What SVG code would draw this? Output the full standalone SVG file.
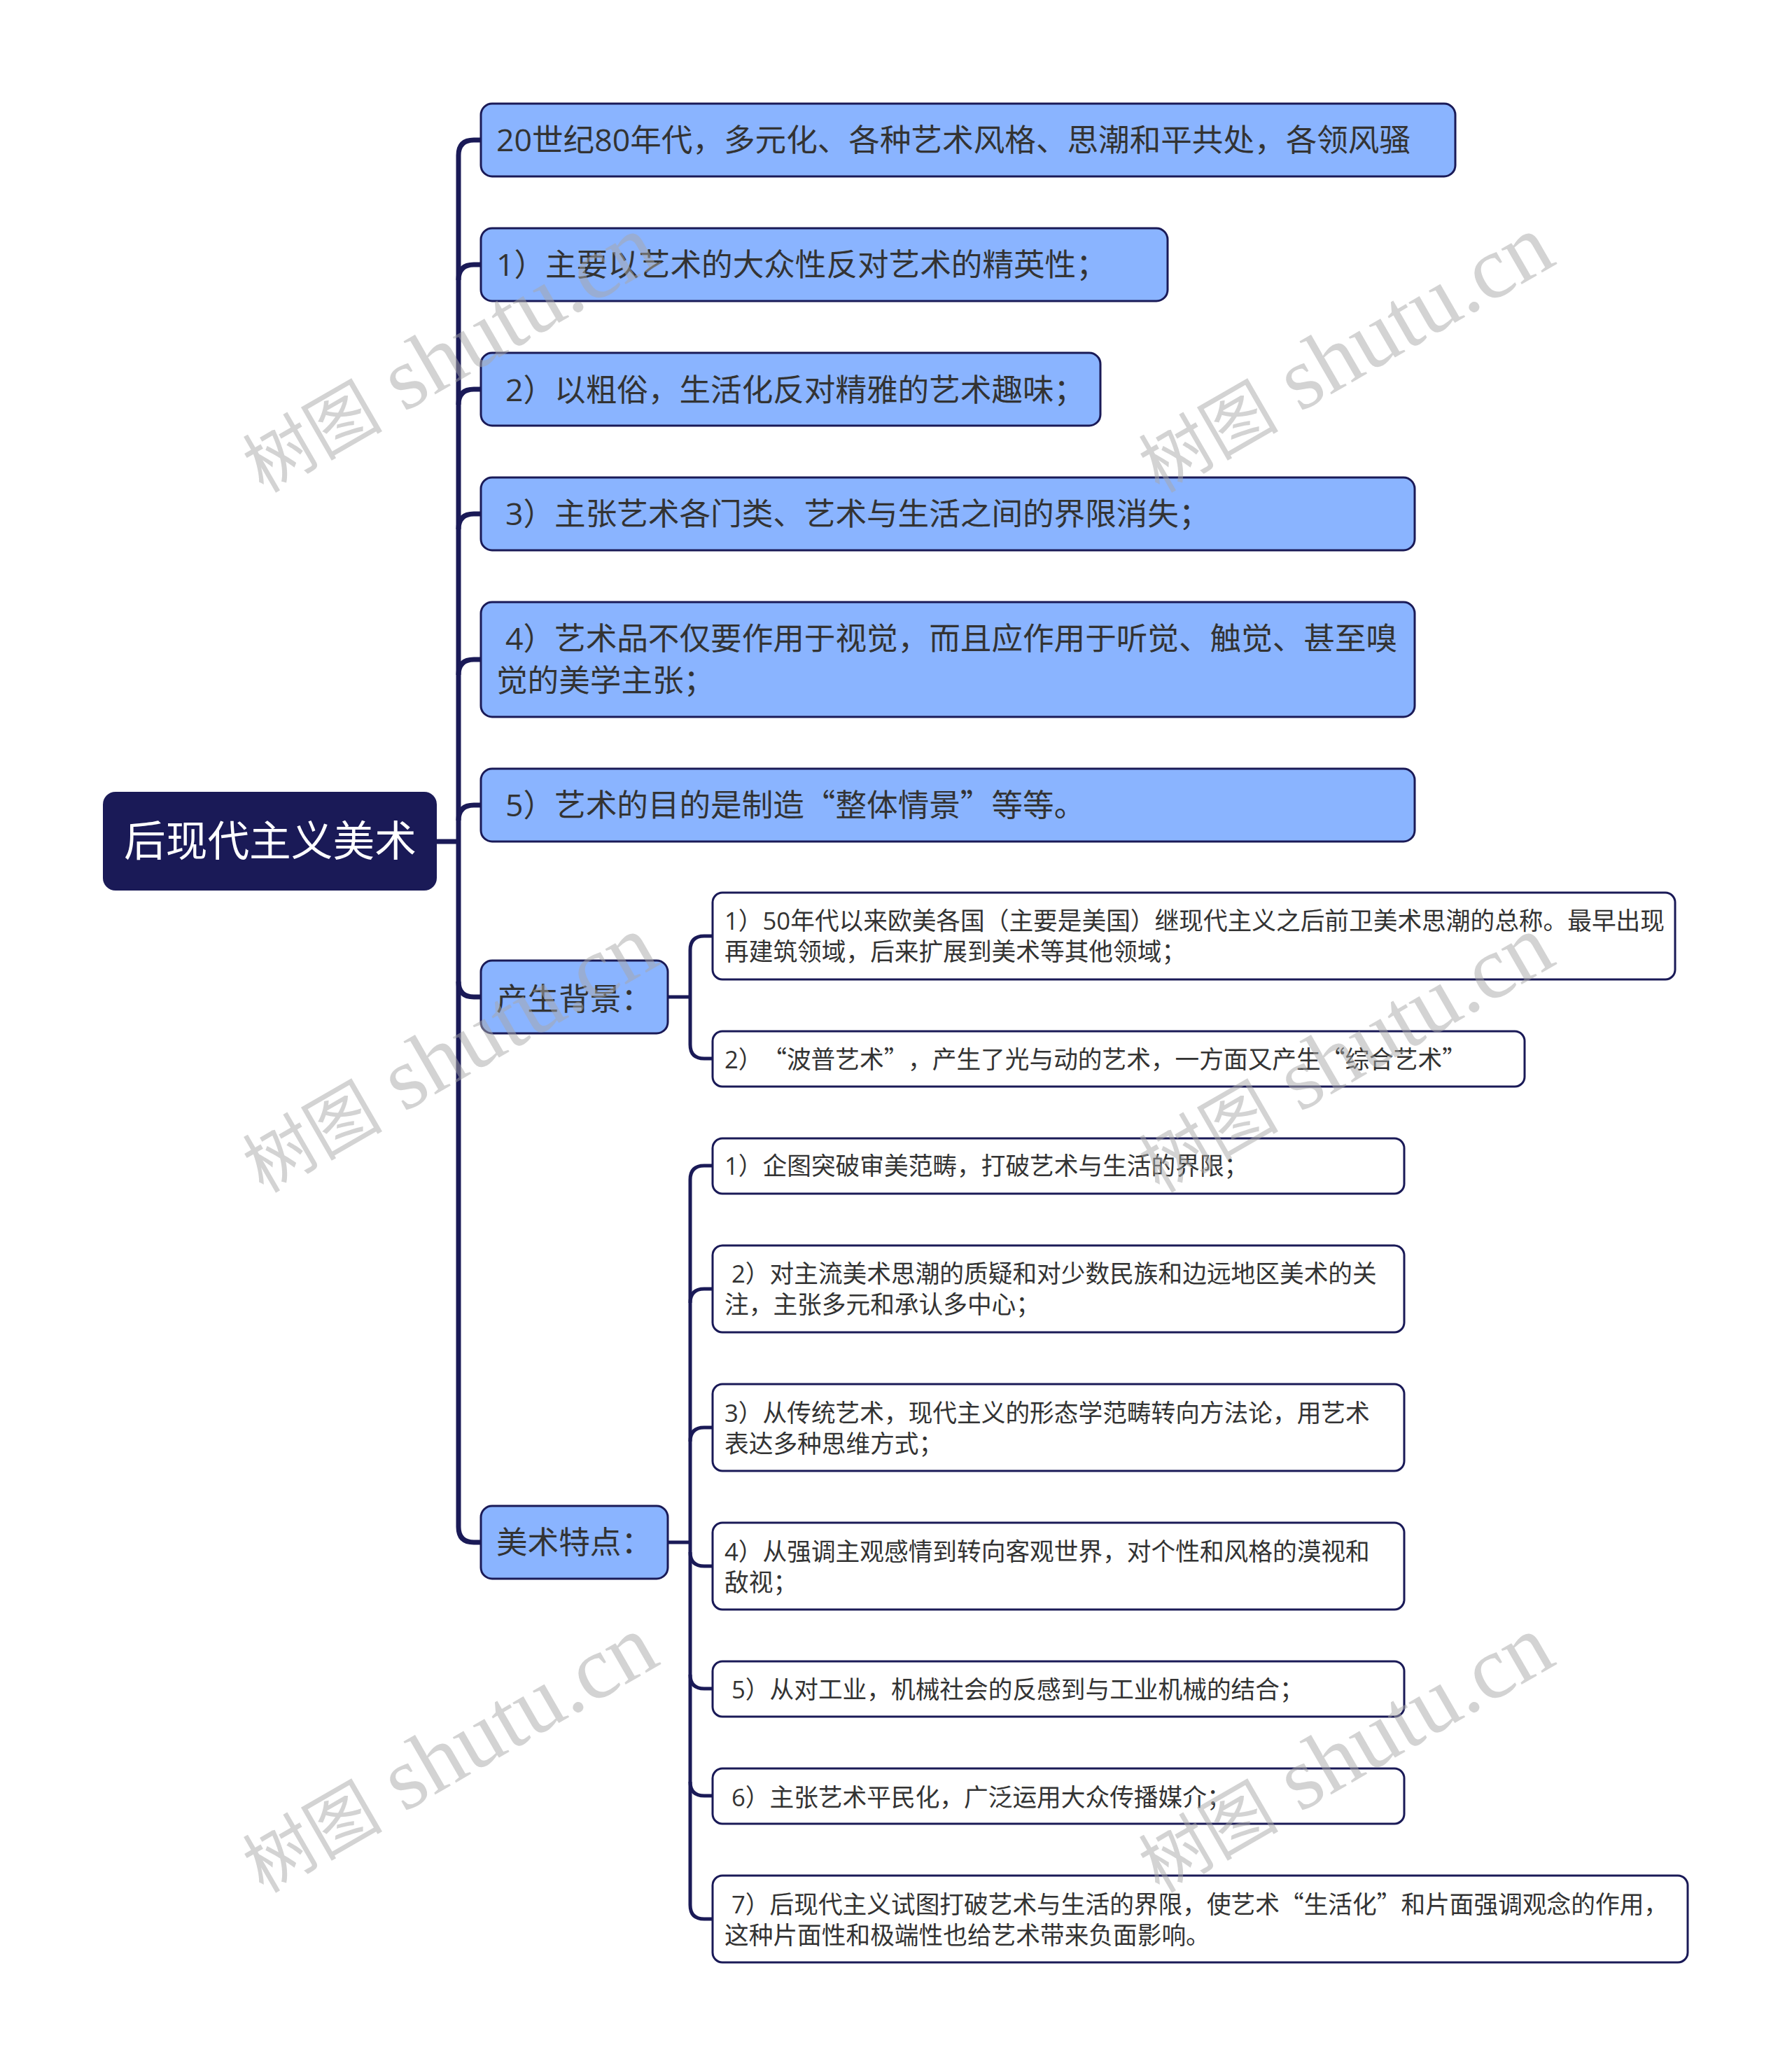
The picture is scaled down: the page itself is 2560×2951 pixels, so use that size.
<svg xmlns="http://www.w3.org/2000/svg" width="2560" height="2951" viewBox="0 0 2560 2951">
<style>
text{font-family:"Open Sans","Noto Sans CJK SC",sans-serif;fill:#333;white-space:pre}
.q{font-family:"Noto Sans CJK SC",sans-serif}
.l1 rect{fill:#8ab4ff;stroke:#1a1a57;stroke-width:3}
.l1 text{font-size:44.6px}
.l2 rect{fill:#fff;stroke:#1a1a57;stroke-width:3}
.l2 text{font-size:34.7px}
#root rect{fill:#1a1a57}
#root text{font-size:59.7px;fill:#fff}
.c1{fill:none;stroke:#1a1a57;stroke-width:7}
.c2{fill:none;stroke:#1a1a57;stroke-width:5}
.wm{font-family:"Liberation Serif","Noto Sans CJK SC",serif;font-size:127px;fill:#a8a8a8;opacity:.5}
.wm .z{font-size:100px}
</style>
<rect width="2560" height="2951" fill="#fff"/>
<g id="connectors">
<path class="c1" d="M624 1202H655"/>
<path class="c1" d="M687 200H677Q655 200 655 222V2181Q655 2203 677 2203H687"/>
<path class="c1" d="M687 378H677Q655 378 655 400"/>
<path class="c1" d="M687 556H677Q655 556 655 578"/>
<path class="c1" d="M687 734H677Q655 734 655 756"/>
<path class="c1" d="M687 942H677Q655 942 655 964"/>
<path class="c1" d="M687 1150H677Q655 1150 655 1172"/>
<path class="c1" d="M687 1424H677Q655 1424 655 1402"/>
<path class="c2" d="M954 1424H986"/>
<path class="c2" d="M1018 1337H1006Q986 1337 986 1357V1492Q986 1512 1006 1512H1018"/>
<path class="c2" d="M954 2203H986"/>
<path class="c2" d="M1018 1665H1006Q986 1665 986 1685V2721Q986 2741 1006 2741H1018"/>
<path class="c2" d="M1018 1841H1006Q986 1841 986 1861"/>
<path class="c2" d="M1018 2039H1006Q986 2039 986 2059"/>
<path class="c2" d="M1018 2237H1006Q986 2237 986 2217"/>
<path class="c2" d="M1018 2412H1006Q986 2412 986 2392"/>
<path class="c2" d="M1018 2565H1006Q986 2565 986 2545"/>
</g>
<g id="root"><rect x="147" y="1131" width="477" height="141" rx="18"/><text x="177" y="1223">后现代主义美术</text></g>
<g id="n1" class="l1"><rect x="687" y="148" width="1392" height="104" rx="16"/><text x="709" y="216">20世纪80年代，多元化、各种艺术风格、思潮和平共处，各领风骚</text></g>
<g id="n2" class="l1"><rect x="687" y="326" width="981" height="104" rx="16"/><text x="709" y="394">1）主要以艺术的大众性反对艺术的精英性；</text></g>
<g id="n3" class="l1"><rect x="687" y="504" width="885" height="104" rx="16"/><text x="722" y="573">2）以粗俗，生活化反对精雅的艺术趣味；</text></g>
<g id="n4" class="l1"><rect x="687" y="682" width="1334" height="104" rx="16"/><text x="722" y="750">3）主张艺术各门类、艺术与生活之间的界限消失；</text></g>
<g id="n5" class="l1"><rect x="687" y="860" width="1334" height="164" rx="16"/><text x="722" y="928">4）艺术品不仅要作用于视觉，而且应作用于听觉、触觉、甚至嗅</text><text x="709" y="988">觉的美学主张；</text></g>
<g id="n6" class="l1"><rect x="687" y="1098" width="1334" height="104" rx="16"/><text x="722" y="1166">5）艺术的目的是制造<tspan class="q">“</tspan>整体情景<tspan class="q">”</tspan>等等。</text></g>
<g id="n7" class="l1"><rect x="687" y="1372" width="267" height="104" rx="16"/><text x="709" y="1443">产生背景：</text></g>
<g id="n8" class="l1"><rect x="687" y="2151" width="267" height="104" rx="16"/><text x="709" y="2219">美术特点：</text></g>
<g id="a1" class="l2"><rect x="1018" y="1275" width="1375" height="124" rx="14"/><text x="1035" y="1328">1）50年代以来欧美各国（主要是美国）继现代主义之后前卫美术思潮的总称。最早出现</text><text x="1035" y="1372">再建筑领域，后来扩展到美术等其他领域；</text></g>
<g id="a2" class="l2"><rect x="1018" y="1473" width="1160" height="79" rx="14"/><text x="1035" y="1526">2）<tspan class="q" dx="17">“</tspan>波普艺术<tspan class="q">”</tspan><tspan dx="17">，</tspan>产生了光与动的艺术，一方面又产生<tspan class="q">“</tspan>综合艺术<tspan class="q">”</tspan></text></g>
<g id="b1" class="l2"><rect x="1018" y="1626" width="988" height="79" rx="14"/><text x="1035" y="1678">1）企图突破审美范畴，打破艺术与生活的界限；</text></g>
<g id="b2" class="l2"><rect x="1018" y="1779" width="988" height="124" rx="14"/><text x="1045" y="1832">2）对主流美术思潮的质疑和对少数民族和边远地区美术的关</text><text x="1035" y="1876">注，主张多元和承认多中心；</text></g>
<g id="b3" class="l2"><rect x="1018" y="1977" width="988" height="124" rx="14"/><text x="1035" y="2031">3）从传统艺术，现代主义的形态学范畴转向方法论，用艺术</text><text x="1035" y="2075">表达多种思维方式；</text></g>
<g id="b4" class="l2"><rect x="1018" y="2175" width="988" height="124" rx="14"/><text x="1035" y="2229">4）从强调主观感情到转向客观世界，对个性和风格的漠视和</text><text x="1035" y="2273">敌视；</text></g>
<g id="b5" class="l2"><rect x="1018" y="2373" width="988" height="79" rx="14"/><text x="1045" y="2426">5）从对工业，机械社会的反感到与工业机械的结合；</text></g>
<g id="b6" class="l2"><rect x="1018" y="2526" width="988" height="79" rx="14"/><text x="1045" y="2580">6）主张艺术平民化，广泛运用大众传播媒介；</text></g>
<g id="b7" class="l2"><rect x="1018" y="2679" width="1393" height="124" rx="14"/><text x="1045" y="2733">7）后现代主义试图打破艺术与生活的界限，使艺术<tspan class="q">“</tspan>生活化<tspan class="q">”</tspan>和片面强调观念的作用，</text><text x="1035" y="2777">这种片面性和极端性也给艺术带来负面影响。</text></g>
<g id="watermarks">
<text class="wm" transform="translate(376 705) rotate(-30)"><tspan class="z">树图</tspan> shutu.cn</text>
<text class="wm" transform="translate(1656 705) rotate(-30)"><tspan class="z">树图</tspan> shutu.cn</text>
<text class="wm" transform="translate(376 1705) rotate(-30)"><tspan class="z">树图</tspan> shutu.cn</text>
<text class="wm" transform="translate(1656 1705) rotate(-30)"><tspan class="z">树图</tspan> shutu.cn</text>
<text class="wm" transform="translate(376 2705) rotate(-30)"><tspan class="z">树图</tspan> shutu.cn</text>
<text class="wm" transform="translate(1656 2705) rotate(-30)"><tspan class="z">树图</tspan> shutu.cn</text>
</g>
</svg>
